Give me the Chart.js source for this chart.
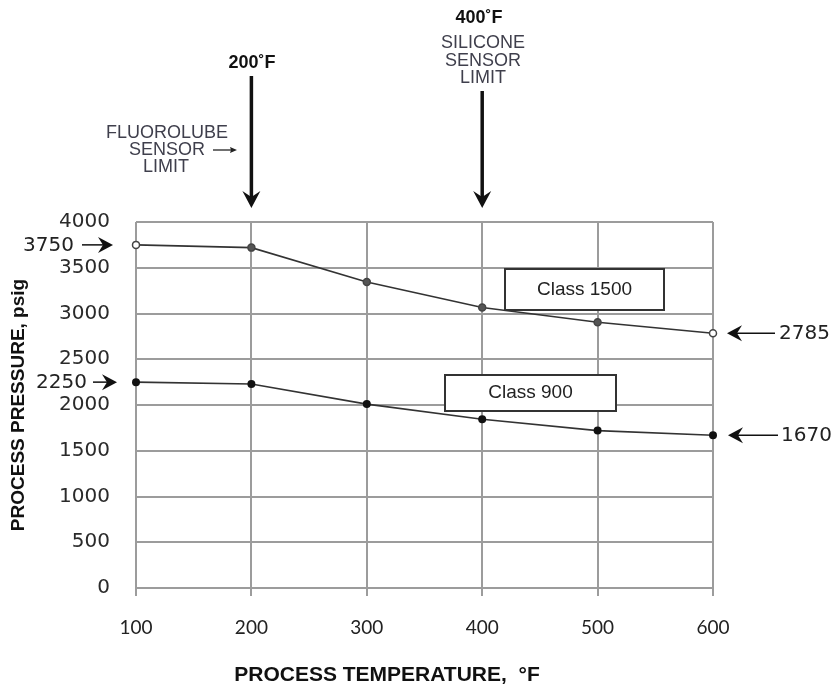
<!DOCTYPE html>
<html><head><meta charset="utf-8">
<script src="https://cdn.jsdelivr.net/npm/chart.js@4/dist/chart.umd.min.js"></script>
<style>html,body{margin:0;padding:0;background:#fff}#wrap{width:838px;height:687px}</style>
</head><body><div id="wrap"><canvas id="c" width="838" height="687"></canvas></div>
<script>
// ---- data ----
const temperatures = [100, 200, 300, 400, 500, 600];
const class1500 = [3750, 3720, 3345, 3065, 2905, 2785];
const class900 = [2250, 2230, 2010, 1845, 1720, 1670];
const xTickValues = [100, 200, 300, 400, 500, 600];
const yTickValues = [0, 500, 1000, 1500, 2000, 2500, 3000, 3500, 4000];
const seriesNames = ['Class 1500', 'Class 900'];
const leftCallouts = [3750, 2250];
const rightCallouts = [2785, 1670];
const limitTemps = [200, 400];
const xTitle = 'PROCESS TEMPERATURE,  \u00B0F';
const yTitle = 'PROCESS PRESSURE, psig';

const pts = (vals) => temperatures.map((t, i) => ({x: t, y: vals[i]}));

function stealth(ctx, tx, ty, dir, len, half, notch) {
  const [dx, dy] = dir;
  const px = -dy, py = dx;
  const bx = tx - dx * len, by = ty - dy * len;
  ctx.beginPath();
  ctx.moveTo(tx, ty);
  ctx.lineTo(bx + px * half, by + py * half);
  ctx.lineTo(tx - dx * (len - notch), ty - dy * (len - notch));
  ctx.lineTo(bx - px * half, by - py * half);
  ctx.closePath();
  ctx.fill();
}

const annot = {
  id: 'annot',
  afterDraw(chart) {
    const ctx = chart.ctx;
    const xs = chart.scales.x, ys = chart.scales.y;
    const area = chart.chartArea;
    ctx.save();
    // legend boxes
    ctx.lineWidth = 2; ctx.strokeStyle = '#333';
    const boxes = [
      {name: seriesNames[0], x0: 505, y0: 269, x1: 664, y1: 310},
      {name: seriesNames[1], x0: 445, y0: 375, x1: 616, y1: 411}
    ];
    boxes.forEach(b => {
      ctx.fillStyle = '#fff';
      ctx.fillRect(b.x0, b.y0, b.x1 - b.x0, b.y1 - b.y0);
      ctx.strokeRect(b.x0, b.y0, b.x1 - b.x0, b.y1 - b.y0);
      ctx.fillStyle = '#222';
      ctx.font = '19px "Liberation Sans", Arial, sans-serif';
      ctx.textAlign = 'center'; ctx.textBaseline = 'middle';
      ctx.fillText(b.name, (b.x0 + b.x1) / 2, (b.y0 + b.y1) / 2);
    });

    // titles
    ctx.fillStyle = '#111';
    ctx.font = 'bold 21px "Liberation Sans", Arial, sans-serif';
    ctx.textAlign = 'center'; ctx.textBaseline = 'middle';
    ctx.fillText(xTitle, 387, 675);
    ctx.save();
    ctx.translate(19, (area.top + area.bottom) / 2);
    ctx.rotate(-Math.PI / 2);
    ctx.font = 'bold 19px "Liberation Sans", Arial, sans-serif';
    ctx.fillText(yTitle, 0, 0);
    ctx.restore();

    // left callouts
    ctx.font = '20px "DejaVu Sans", sans-serif';
    ctx.textAlign = 'right'; ctx.textBaseline = 'middle';
    const leftCfg = [{textR: 74, x0: 82, tip: 113}, {textR: 87, x0: 93, tip: 117}];
    leftCallouts.forEach((v, i) => {
      const y = ys.getPixelForValue(v);
      const c = leftCfg[i];
      ctx.fillStyle = '#222';
      ctx.fillText(String(v), c.textR, y + 1);
      ctx.strokeStyle = '#111'; ctx.lineWidth = 1.5;
      ctx.beginPath(); ctx.moveTo(c.x0, y); ctx.lineTo(c.tip - 8, y); ctx.stroke();
      ctx.fillStyle = '#111';
      stealth(ctx, c.tip, y, [1, 0], 15, 8, 5);
    });
    // right callouts
    const rightCfg = [{tip: 727, x1: 775, textL: 779}, {tip: 728, x1: 778, textL: 781}];
    ctx.textAlign = 'left';
    rightCallouts.forEach((v, i) => {
      const y = ys.getPixelForValue(v);
      const c = rightCfg[i];
      ctx.lineWidth = 1.5; ctx.strokeStyle = '#111';
      ctx.beginPath(); ctx.moveTo(c.tip + 8, y); ctx.lineTo(c.x1, y); ctx.stroke();
      ctx.fillStyle = '#111';
      stealth(ctx, c.tip, y, [-1, 0], 15, 8, 5);
      ctx.fillStyle = '#222';
      ctx.fillText(String(v), c.textL, y + 1);
    });

    // top limit arrows
    const tops = [76, 91];
    limitTemps.forEach((t, i) => {
      const x = xs.getPixelForValue(t);
      const tipY = area.top - 14;
      ctx.strokeStyle = '#111'; ctx.lineWidth = 3.5;
      ctx.beginPath(); ctx.moveTo(x, tops[i]); ctx.lineTo(x, tipY - 10); ctx.stroke();
      ctx.fillStyle = '#111';
      stealth(ctx, x, tipY, [0, 1], 17, 9, 6);
    });
    // top texts
    ctx.textAlign = 'center'; ctx.textBaseline = 'middle';
    ctx.fillStyle = '#111';
    ctx.font = 'bold 18px "Liberation Sans", Arial, sans-serif';
    ctx.fillText(limitTemps[0] + '\u02DAF', 252, 63);
    ctx.fillText(limitTemps[1] + '\u02DAF', 479, 18);
    ctx.fillStyle = '#3f3f4c';
    ctx.font = '18px "Liberation Sans", Arial, sans-serif';
    ctx.fillText('SILICONE', 483, 43);
    ctx.fillText('SENSOR', 483, 61);
    ctx.fillText('LIMIT', 483, 78);
    ctx.fillText('FLUOROLUBE', 167, 133);
    ctx.fillText('SENSOR', 167, 150);
    ctx.fillText('LIMIT', 166, 167);
    ctx.strokeStyle = '#222'; ctx.lineWidth = 1.3;
    ctx.beginPath(); ctx.moveTo(213, 150); ctx.lineTo(232, 150); ctx.stroke();
    ctx.fillStyle = '#222';
    stealth(ctx, 237, 150, [1, 0], 7, 3, 1);
    ctx.restore();
  }
};

new Chart(document.getElementById('c'), {
  type: 'line',
  data: {
    datasets: [
      {
        label: seriesNames[0],
        data: pts(class1500),
        borderColor: '#333', borderWidth: 1.6,
        pointRadius: 3.5,
        pointBackgroundColor: ['#fff', '#555', '#555', '#555', '#555', '#fff'],
        pointBorderColor: '#444', pointBorderWidth: 1.5,
        tension: 0, clip: false
      },
      {
        label: seriesNames[1],
        data: pts(class900),
        borderColor: '#333', borderWidth: 1.6,
        pointRadius: 4,
        pointBackgroundColor: '#111', pointBorderColor: '#111', pointBorderWidth: 0,
        tension: 0, clip: false
      }
    ]
  },
  options: {
    responsive: false,
    animation: false,
    devicePixelRatio: 1,
    layout: {padding: {top: 222, right: 125, left: 0, bottom: 0}},
    plugins: {legend: {display: false}, tooltip: {enabled: false}, title: {display: false}},
    scales: {
      x: {
        type: 'linear', min: 100, max: 600,
        afterBuildTicks: (s) => { s.ticks = xTickValues.map(v => ({value: v})); },
        afterFit: (s) => { s.height = 99; },
        grid: {color: '#9c9c9c', lineWidth: 2, drawTicks: true, tickLength: 8, tickColor: '#9c9c9c'},
        border: {display: false},
        ticks: {font: {family: 'Lato', size: 19}, color: '#222', padding: 20, maxRotation: 0,
                callback: (v) => String(v)}
      },
      y: {
        type: 'linear', min: 0, max: 4000,
        afterBuildTicks: (s) => { s.ticks = yTickValues.map(v => ({value: v})); },
        afterFit: (s) => { s.width = 136; },
        grid: {color: '#9c9c9c', lineWidth: 2, drawTicks: false},
        border: {display: false},
        ticks: {font: {family: 'DejaVu Sans', size: 20}, color: '#2a2a2a', padding: 26,
                callback: (v) => String(v)}
      }
    }
  },
  plugins: [annot]
});
</script></body></html>
